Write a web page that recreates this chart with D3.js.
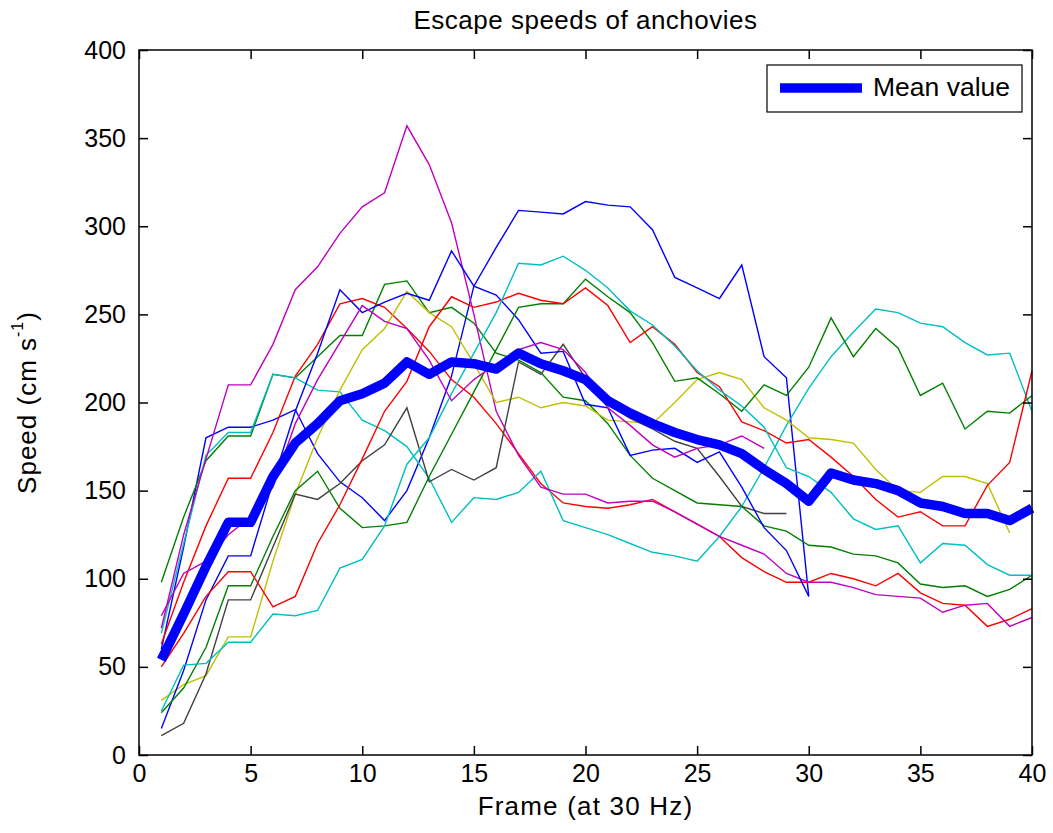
<!DOCTYPE html>
<html>
<head>
<meta charset="utf-8">
<script src="https://cdn.jsdelivr.net/npm/d3@7"></script>
<style>
  html, body { margin: 0; padding: 0; background: #fff; }
  text { font-family: "Liberation Sans", Arial, sans-serif; fill: #000; }
</style>
</head>
<body>
<svg id="chart" width="1053" height="833"></svg>
<script>
// ---------- data ----------
const frames = [1,2,3,4,5,6,7,8,9,10,11,12,13,14,15,16,17,18,19,20,21,22,23,24,25,26,27,28,29,30,31,32,33,34,35,36,37,38,39,40];
const xTicks = [0,5,10,15,20,25,30,35,40];
const yTicks = [0,50,100,150,200,250,300,350,400];

const blueHigh   = [60,118,180,186,186,190,196,171,155,146,133,150,180,215,266,288,309,308,307,314,312,311,298,271,265,259,278,226,214,90];
const greenA     = [98,135,167,181,181,216,214,226,238,238,267,269,251,254,245,228,224,217,203,201,188,170,157,150,143,142,141,130,127,119,118,114,113,109,97,95,96,90,94,102];
const redA       = [63,98,130,157,157,183,215,233,256,259,254,242,229,213,203,188,171,154,143,141,140,142,145,138,131,124,112,104,98,98,103,100,96,103,92,86,85,73,77,83];
const cyanA      = [69,120,170,183,183,216,214,207,206,190,184,175,157,132,146,145,149,161,133,129,125,120,115,113,110,124,141,163,187,208,226,240,253,251,245,243,234,227,228,195];
const magentaA   = [72,125,168,210,210,233,264,277,296,311,319,357,335,302,250,195,170,152,148,148,143,144,144,138,131,124,119,114,103,98,98,95,91,90,89,81,85,86,73,78];
const yellowA    = [31,40,45,67,67,110,148,180,207,230,242,263,251,243,222,200,203,197,200,198,190,189,188,200,213,217,213,197,190,180,179,177,162,150,149,158,158,154,126];
const grayA      = [11,18,46,88,88,118,148,145,154,167,176,197,155,162,156,163,223,216,233,214,199,191,185,178,174,158,141,137,137];
const blueLow    = [15,48,88,113,113,155,195,228,264,251,257,262,258,286,266,261,247,228,229,199,197,170,173,174,166,172,152,129,116,90];
const greenB     = [24,38,61,96,96,124,150,161,140,129,130,132,158,182,206,230,254,256,256,270,260,251,234,212,214,205,195,210,204,220,248,226,242,231,204,211,185,195,194,204];
const redB       = [50,69,90,104,104,84,90,120,142,168,195,212,243,260,254,257,262,258,256,265,255,234,243,233,217,209,189,184,177,179,169,158,145,135,138,130,130,153,166,218];
const cyanB      = [25,51,52,64,64,80,79,82,106,111,130,165,180,205,228,251,279,278,283,275,265,252,244,232,218,207,198,186,163,158,149,134,128,130,109,120,119,108,102,102];
const magentaB   = [79,103,110,125,135,152,188,213,234,255,246,242,224,201,213,222,230,234,230,217,197,187,176,169,174,176,181,174];
const meanValue  = [54,80,107,132,132,158,177,188,201,205,211,223,216,223,222,219,228,222,218,213,201,194,188,183,179,176,171,162,154,144,160,156,154,150,143,141,137,137,133,140];

const seriesColors = ["#0000ff","#008000","#ff0000","#00bfbf","#bf00bf","#bfbf00","#404040","#0000ff","#008000","#ff0000","#00bfbf","#bf00bf"];
const seriesValues = [blueHigh, greenA, redA, cyanA, magentaA, yellowA, grayA, blueLow, greenB, redB, cyanB, magentaB];

// ---------- layout ----------
const L = 139, R = 1032, T = 50, B = 755;
const svg = d3.select("#chart");
svg.append("rect").attr("width",1053).attr("height",833).attr("fill","#fff");

const x = d3.scaleLinear().domain([0,40]).range([L,R]);
const y = d3.scaleLinear().domain([0,400]).range([B,T]);

const line = d3.line().x((d,i)=>x(frames[i])).y(d=>y(d));

const g = svg.append("g");
seriesValues.forEach((vals,k)=>{
  g.append("path").datum(vals)
    .attr("d", line)
    .attr("fill","none")
    .attr("stroke", seriesColors[k])
    .attr("stroke-width",1.4)
    .attr("stroke-linejoin","miter");
});
g.append("path").datum(meanValue)
  .attr("d", line)
  .attr("fill","none")
  .attr("stroke","#0000ff")
  .attr("stroke-width",9.5)
  .attr("stroke-linejoin","round");

// axes
const fs = 25;
const ax = svg.append("g").attr("transform",`translate(0,${B})`)
  .call(d3.axisBottom(x).tickValues(xTicks).tickSizeInner(-9).tickSizeOuter(0).tickPadding(9));
const ay = svg.append("g").attr("transform",`translate(${L},0)`)
  .call(d3.axisLeft(y).tickValues(yTicks).tickSizeInner(-9).tickSizeOuter(0).tickPadding(13));
const axT = svg.append("g").attr("transform",`translate(0,${T})`)
  .call(d3.axisTop(x).tickValues(xTicks).tickSizeInner(-9).tickSizeOuter(0).tickFormat(""));
const ayR = svg.append("g").attr("transform",`translate(${R},0)`)
  .call(d3.axisRight(y).tickValues(yTicks).tickSizeInner(-9).tickSizeOuter(0).tickFormat(""));
[ax,ay,axT,ayR].forEach(a=>{
  a.select(".domain").remove();
  a.selectAll(".tick line").attr("stroke","#000").attr("stroke-width",1.5);
  a.selectAll(".tick text").attr("font-size",fs).attr("font-family","Liberation Sans, Arial, sans-serif").attr("fill","#000");
});
svg.append("rect").attr("x",L).attr("y",T).attr("width",R-L).attr("height",B-T)
  .attr("fill","none").attr("stroke","#000").attr("stroke-width",1.5);

// title and labels
svg.append("text").attr("x",(L+R)/2).attr("y",22).attr("text-anchor","middle")
  .attr("dominant-baseline","middle").attr("font-size",26).attr("letter-spacing",0.5)
  .text("Escape speeds of anchovies");
svg.append("text").attr("x",(L+R)/2).attr("y",808).attr("text-anchor","middle")
  .attr("dominant-baseline","middle").attr("font-size",26).attr("letter-spacing",1.2)
  .text("Frame (at 30 Hz)");
const yl = svg.append("text").attr("transform",`translate(29,${(T+B)/2}) rotate(-90)`)
  .attr("text-anchor","middle").attr("dominant-baseline","middle").attr("font-size",26).attr("letter-spacing",1);
yl.append("tspan").text("Speed (cm s");
yl.append("tspan").attr("font-size",16).attr("dy",-10).text("-1");
yl.append("tspan").attr("dy",10).text(")");

// legend
const lg = svg.append("g");
lg.append("rect").attr("x",767).attr("y",65).attr("width",255).attr("height",47)
  .attr("fill","#fff").attr("stroke","#000").attr("stroke-width",1.2);
lg.append("line").attr("x1",780).attr("x2",862).attr("y1",88).attr("y2",88)
  .attr("stroke","#0000ff").attr("stroke-width",9.5);
lg.append("text").attr("x",873).attr("y",89).attr("dominant-baseline","middle")
  .attr("font-size",26.5).text("Mean value");
</script>
</body>
</html>
